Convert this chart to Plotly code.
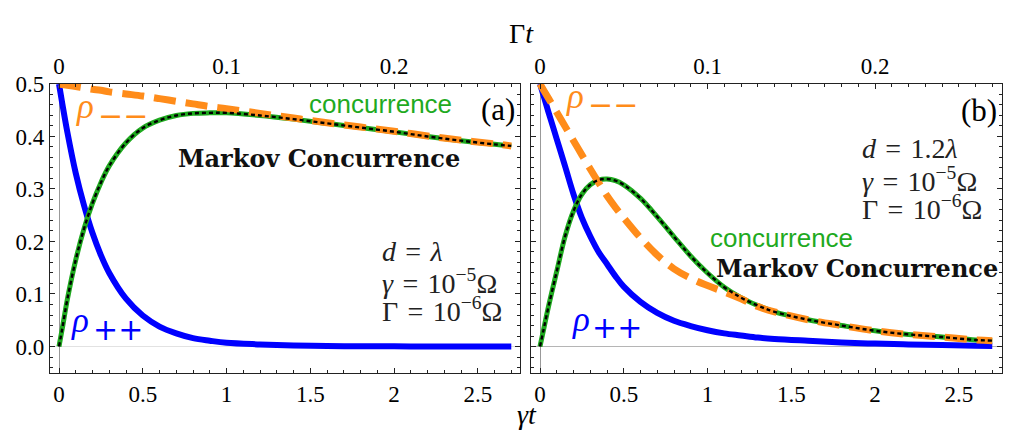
import plotly.graph_objects as go

# ---------------- data ----------------
t_a = [0, 0.02, 0.05, 0.1, 0.15, 0.2, 0.25, 0.3, 0.4, 0.5, 0.6, 0.7, 0.8, 0.9,
       1.0, 1.2, 1.4, 1.6, 1.8, 2.0, 2.2, 2.4, 2.6, 2.7]
rho_pp_a = [0.5, 0.462, 0.408, 0.33, 0.268, 0.216, 0.174, 0.140, 0.091, 0.059,
            0.038, 0.025, 0.016, 0.011, 0.007, 0.004, 0.002, 0.001, 0.0005,
            0.0003, 0.0002, 0.0001, 0.0, 0.0]
rho_mm_a = [0.5, 0.499, 0.4975, 0.495, 0.4925, 0.490, 0.488, 0.485, 0.481, 0.477,
            0.472, 0.467, 0.462, 0.457, 0.453, 0.444, 0.435, 0.426, 0.418, 0.410,
            0.401, 0.393, 0.386, 0.382]
conc_a = [0.0, 0.035, 0.09, 0.165, 0.225, 0.273, 0.312, 0.344, 0.388, 0.416,
          0.431, 0.440, 0.444, 0.445, 0.445, 0.440, 0.433, 0.425, 0.417, 0.409,
          0.400, 0.392, 0.385, 0.382]
markov_a = list(conc_a)

t_b = [0, 0.02, 0.05, 0.1, 0.15, 0.2, 0.25, 0.3, 0.35, 0.4, 0.45, 0.5, 0.6, 0.7,
       0.8, 0.9, 1.0, 1.1, 1.2, 1.3, 1.4, 1.6, 1.8, 2.0, 2.2, 2.4, 2.6, 2.7]
rho_pp_b = [0.5, 0.479, 0.447, 0.395, 0.343, 0.29, 0.245, 0.21, 0.18, 0.157,
            0.134, 0.114, 0.085, 0.064, 0.049, 0.039, 0.031, 0.025, 0.021, 0.017,
            0.0145, 0.011, 0.0078, 0.0055, 0.004, 0.0028, 0.0016, 0.0012]
rho_mm_b = [0.5, 0.489, 0.473, 0.446, 0.419, 0.392, 0.365, 0.338, 0.312, 0.287,
            0.265, 0.245, 0.207, 0.174, 0.148, 0.130, 0.116, 0.104, 0.091, 0.076,
            0.066, 0.051, 0.040, 0.030, 0.023, 0.018, 0.0125, 0.0112]
conc_b = [0.0, 0.03, 0.075, 0.143, 0.210, 0.258, 0.290, 0.308, 0.317, 0.319,
          0.316, 0.308, 0.282, 0.247, 0.209, 0.172, 0.140, 0.113, 0.093, 0.078,
          0.066, 0.051, 0.040, 0.030, 0.023, 0.018, 0.0125, 0.0112]
markov_b = list(conc_b)

bottom_ticks = [0, 0.5, 1, 1.5, 2, 2.5]
bottom_labels = ["0", "0.5", "1", "1.5", "2", "2.5"]
top_ticks = [0, 0.1, 0.2]
top_labels = ["0", "0.1", "0.2"]
y_ticks = [0.0, 0.1, 0.2, 0.3, 0.4, 0.5]
y_labels = ["0.0", "0.1", "0.2", "0.3", "0.4", "0.5"]
gamma_ratio = 0.1  # Gamma / gamma

# ---------------- styling ----------------
W, H = 1009, 435
BLUE = "#0000ff"
ORANGE = "#ff8c1a"
GREEN = "#1faa1f"
SERIF = "Liberation Serif"
SP = "\u2004"  # slightly wider space around '=' like TeX math
TICKSIZE = 23


def px(x):
    return x / W


def py(y):
    return 1 - y / H


fig = go.Figure()


def add_panel(t, pp, mm, cc, mk, xa, ya):
    fig.add_trace(go.Scatter(x=t, y=pp, mode="lines", xaxis=xa, yaxis=ya,
                             line=dict(color=BLUE, width=6, shape="spline"),
                             hoverinfo="skip"))
    fig.add_trace(go.Scatter(x=t, y=cc, mode="lines", xaxis=xa, yaxis=ya,
                             line=dict(color=GREEN, width=5, shape="spline"),
                             hoverinfo="skip"))
    fig.add_trace(go.Scatter(x=t, y=mm, mode="lines", xaxis=xa, yaxis=ya,
                             line=dict(color=ORANGE, width=7, shape="spline",
                                       dash="22px,10px"),
                             hoverinfo="skip"))
    fig.add_trace(go.Scatter(x=t, y=mk, mode="lines", xaxis=xa, yaxis=ya,
                             line=dict(color="black", width=2.4, shape="spline",
                                       dash="4px,3px"),
                             hoverinfo="skip"))


add_panel(t_a, rho_pp_a, rho_mm_a, conc_a, markov_a, "x", "y")
add_panel(t_b, rho_pp_b, rho_mm_b, conc_b, markov_b, "x2", "y2")

# invisible helpers so the top (Gamma t) axes are drawn
fig.add_trace(go.Scatter(x=[t_a[0] * gamma_ratio], y=[None], xaxis="x3", yaxis="y",
                         mode="markers", showlegend=False, hoverinfo="skip"))
fig.add_trace(go.Scatter(x=[t_b[0] * gamma_ratio], y=[None], xaxis="x4", yaxis="y2",
                         mode="markers", showlegend=False, hoverinfo="skip"))

xr_a = [-0.0537, 2.752]
xr_b = [-0.0537, 2.758]
yr = [-0.05, 0.5]
dom_a = [px(50), px(520)]
dom_b = [px(531), px(1002)]
dom_y = [py(371), py(74)]

LINEC = "#222222"


def tf():
    return dict(family=SERIF, size=TICKSIZE, color="black")


def x_bottom(domain, rng, anchor):
    return dict(domain=domain, range=rng, anchor=anchor, showgrid=False,
                showline=True, linecolor=LINEC, linewidth=1.3,
                ticks="inside", ticklen=5, tickwidth=1, tickcolor=LINEC,
                tickfont=tf(), tickmode="array", tickvals=bottom_ticks,
                ticktext=bottom_labels, zeroline=True, zerolinecolor="#999999",
                zerolinewidth=1, mirror=False,
                minor=dict(ticks="inside", ticklen=3, tickcolor=LINEC,
                           tick0=0, dtick=0.1))


def x_top(over, rng, anchor):
    return dict(overlaying=over, anchor=anchor, range=rng, showgrid=False,
                showline=True, linecolor=LINEC, linewidth=1.3,
                ticks="inside", ticklen=5, tickwidth=1, tickcolor=LINEC,
                tickfont=tf(), tickmode="array", tickvals=top_ticks,
                ticktext=top_labels, zeroline=False, side="top",
                minor=dict(ticks="inside", ticklen=3, tickcolor=LINEC,
                           tick0=0, dtick=0.01))


def y_axis(anchor, labels, zc):
    return dict(anchor=anchor, showgrid=False, showline=True, linecolor=LINEC,
                linewidth=1.3, ticks="inside", ticklen=5, tickwidth=1,
                tickcolor=LINEC, tickfont=tf(), tickmode="array",
                tickvals=y_ticks, ticktext=y_labels, showticklabels=labels,
                zeroline=True, zerolinewidth=1, zerolinecolor=zc,
                mirror="ticks", range=yr, domain=dom_y,
                minor=dict(ticks="inside", ticklen=3, tickcolor=LINEC,
                           tick0=0, dtick=0.02))


fig.update_layout(
    width=W, height=H, margin=dict(l=0, r=0, t=0, b=0),
    font=dict(family=SERIF, size=TICKSIZE, color="black"),
    paper_bgcolor="white", plot_bgcolor="white", showlegend=False,
    xaxis=x_bottom(dom_a, xr_a, "y"),
    xaxis2=x_bottom(dom_b, xr_b, "y2"),
    xaxis3=x_top("x", [v * gamma_ratio for v in xr_a], "y"),
    xaxis4=x_top("x2", [v * gamma_ratio for v in xr_b], "y2"),
    yaxis=y_axis("x", True, "#e2e2e2"),
    yaxis2=y_axis("x2", False, "#b5b5b5"),
)

anns = []


def ann(text, x, y, size, color="black", family=SERIF, xanchor="center",
        yanchor="middle"):
    anns.append(dict(text=text, x=px(x), y=py(y), xref="paper", yref="paper",
                     showarrow=False, xanchor=xanchor, yanchor=yanchor,
                     font=dict(family=family, size=size, color=color)))


# axis titles
ann("Γ<i>t</i>", 521, 22, 28)
ann("<i>γt</i>", 527, 414, 28)
# panel letters
ann("(a)", 498, 100, 31)
ann("(b)", 979, 101, 31)
# curve labels
ann("concurrence", 380, 95, 26, GREEN, "Liberation Sans")
ann("concurrence", 781, 232, 26, GREEN, "Liberation Sans")
ann("<b>Markov Concurrence</b>", 319, 151, 24, "#111111", "DejaVu Serif")
ann("<b>Markov Concurrence</b>", 857, 264, 24, "#111111", "DejaVu Serif")
ann("<i>ρ</i>", 85, 97, 35, ORANGE)
ann("−−", 123, 106, 30, ORANGE, "DejaVu Sans")
ann("<i>ρ</i>", 575, 87, 35, ORANGE)
ann("−−", 613, 95, 30, ORANGE, "DejaVu Sans")
ann("<i>ρ</i>", 80, 317, 35, BLUE)
ann("++", 118, 326, 30, BLUE, "DejaVu Sans")
ann("<i>ρ</i>", 581, 316, 35, BLUE)
ann("++", 617, 324, 30, BLUE, "DejaVu Sans")
# parameters
PC = "#222222"
EQ = SP + "=" + SP
ann("<i>d</i>" + EQ + "<i>λ</i>", 380, 246, 28, PC, xanchor="left")
ann("<i>γ</i>" + EQ + "10<sup>−5</sup>Ω", 380, 277, 28, PC, xanchor="left")
ann("Γ" + EQ + "10<sup>−6</sup>Ω", 380, 306, 28, PC, xanchor="left")
ann("<i>d</i>" + EQ + "1.2<i>λ</i>", 860, 140, 28, PC, xanchor="left")
ann("<i>γ</i>" + EQ + "10<sup>−5</sup>Ω", 860, 172, 28, PC, xanchor="left")
ann("Γ" + EQ + "10<sup>−6</sup>Ω", 860, 201, 28, PC, xanchor="left")

fig.update_layout(annotations=anns)
fig.write_html("out.html")
